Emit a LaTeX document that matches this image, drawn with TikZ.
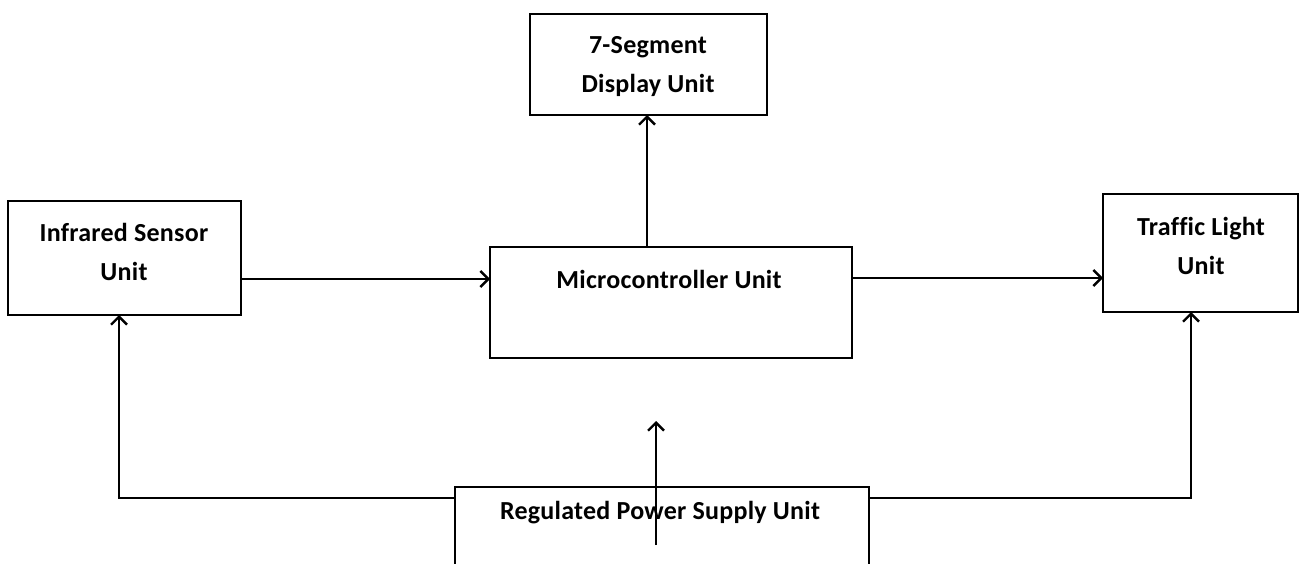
\documentclass[tikz,border=0pt]{standalone}
\usepackage{fontspec}
\setmainfont{Carlito}[Ligatures=NoCommon,LetterSpace=1]
\usetikzlibrary{arrows.meta}
\begin{document}
\begin{tikzpicture}[x=1pt,y=-1pt,
  blk/.style={draw=black,line width=2.4pt,inner sep=0pt,outer sep=0pt,fill=white},
  lbl/.style={font=\fontsize{26}{30}\selectfont\bfseries,inner sep=0pt,anchor=base},
  arr/.style={draw=black,line width=2.4pt,-{Straight Barb[length=8pt,width=16pt,line width=2.4pt]}}]
\useasboundingbox (0,0) rectangle (1300,564);
\begin{scope}
\clip (0,0) rectangle (1300,564);
% boxes
\node[blk,minimum width=237pt,minimum height=101pt] (seg) at (648.5,64.5) {};
\node[blk,minimum width=233pt,minimum height=114pt] (irb) at (124.5,258) {};
\node[blk,minimum width=362pt,minimum height=111pt] (mc) at (671,302.5) {};
\node[blk,minimum width=195pt,minimum height=118pt] (tl) at (1200.5,253) {};
\node[blk,minimum width=414pt,minimum height=140pt] (pwr) at (662,557) {};
% labels
\node[lbl] (segA) at (648,54) {7-Segment};
\node[lbl] (segB) at (648,93) {Display Unit};
\node[lbl] (irA) at (124,241) {Infrared Sensor};
\node[lbl] (irB) at (124,280) {Unit};
\node[lbl] (tlA) at (1201,235) {Traffic Light};
\node[lbl] (tlB) at (1201,274) {Unit};
\node[lbl] (mcA) at (669,288) {Microcontroller Unit};
\node[lbl] (pwA) at (660,519) {Regulated Power Supply Unit};
% connectors
\draw[arr] ([yshift=-21pt]irb.east) -- ([yshift=-21pt]irb.east -| mc.west);
\draw[arr] ([yshift=24.5pt]mc.east) -- ([yshift=24.5pt]mc.east -| tl.west);
\draw[arr] ([xshift=-24pt]mc.north) -- ([xshift=-24pt]mc.north |- seg.south);
\coordinate (pl) at (455,498);
\coordinate (pr) at (869,498);
\draw[arr] (pl) -| ([xshift=-5.5pt]irb.south);
\draw[arr] (pr) -| ([xshift=-9.5pt]tl.south);
\coordinate (ps) at (656,545);
\coordinate (pa) at (656,421);
\draw[arr] (ps) -- (pa);
\end{scope}
\end{tikzpicture}
\end{document}
